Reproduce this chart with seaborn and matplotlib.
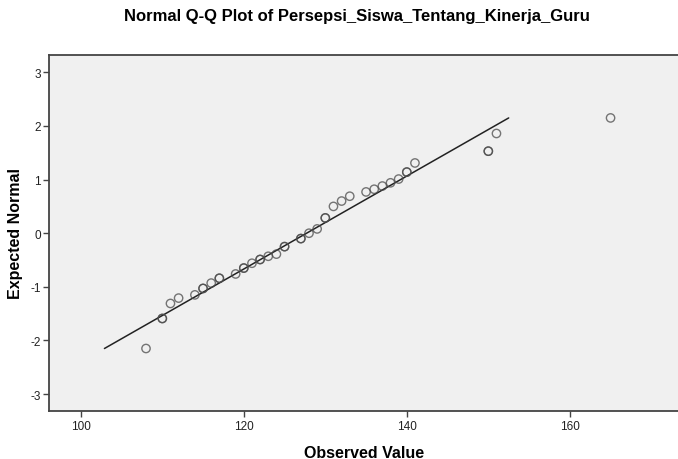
import numpy as np
import pandas as pd
import matplotlib
matplotlib.use("Agg")
import matplotlib.pyplot as plt
import seaborn as sns

# nilai yang dibaca dari gambar
observed = [108, 110, 111, 112, 114, 115, 116, 117, 119, 120, 121, 122, 123, 124,
            125, 127, 128, 129, 130, 131, 132, 133, 135, 136, 137, 138, 139, 140,
            141, 150, 151, 165]
expected = [-2.15, -1.59, -1.31, -1.21, -1.15, -1.03, -0.93, -0.84, -0.76, -0.65,
            -0.56, -0.49, -0.43, -0.39, -0.25, -0.10, 0.00, 0.08, 0.285, 0.50,
            0.60, 0.69, 0.77, 0.82, 0.88, 0.94, 1.01, 1.14, 1.31, 1.53, 1.86, 2.15]
# titik tebal = nilai kembar
counts = [1, 2, 1, 1, 1, 2, 1, 2, 1, 2, 1, 2, 1, 1, 2, 2, 1, 1, 2, 1, 1, 1, 1, 1,
          1, 1, 1, 2, 1, 2, 1, 1]
line_x = [102.9, 152.5]
line_y = [-2.15, 2.15]

x_ticks = [100, 120, 140, 160]
y_ticks = [-3, -2, -1, 0, 1, 2, 3]

df = pd.DataFrame({"obs": observed, "exp": expected, "n": counts})
df = df.loc[df.index.repeat(df["n"])]

sns.set_style("white")
plt.rcParams["font.family"] = ["Liberation Sans", "DejaVu Sans"]
plt.rcParams["axes.unicode_minus"] = False

fig = plt.figure(figsize=(6.78, 4.6), dpi=100)
ax = fig.add_axes([0.0723, 0.105, 0.928, 0.774])
ax.set_facecolor("#f0f0f0")

sns.lineplot(x=line_x, y=line_y, ax=ax, color="#222222", linewidth=1.1)
sns.scatterplot(data=df, x="obs", y="exp", ax=ax, s=36, facecolor="none",
                edgecolor="#4a4a4a", linewidth=1.0, alpha=0.75, zorder=3)

ax.set_xlim(96.1, 173.3)
ax.set_ylim(-3.31, 3.33)
ax.set_xticks(x_ticks)
ax.set_yticks(y_ticks)
ax.tick_params(axis="both", direction="out", length=4, width=1, color="#444444",
               labelsize=8.5, labelcolor="#222222", pad=2, bottom=True, left=True)
ax.tick_params(axis="x", pad=3)

for side in ["left", "bottom", "top"]:
    ax.spines[side].set_color("#444444")
    ax.spines[side].set_linewidth(1.3)
ax.spines["right"].set_visible(False)

ax.set_xlabel("Observed Value", fontsize=11.5, fontweight="bold", labelpad=9,
              color="black")
ax.set_ylabel("Expected Normal", fontsize=11.5, fontweight="bold", labelpad=5,
              color="black")
fig.text(0.527, 0.965, "Normal Q-Q Plot of Persepsi_Siswa_Tentang_Kinerja_Guru",
         ha="center", va="center", fontsize=12, fontweight="bold", color="black")

fig.savefig("out.png", dpi=100)
